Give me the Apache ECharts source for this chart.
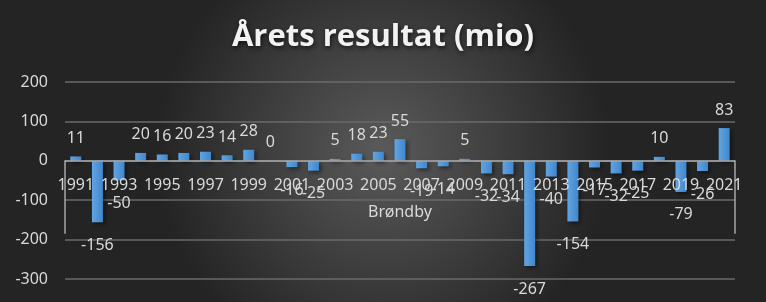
<!DOCTYPE html>
<html>
<head>
<meta charset="utf-8">
<script src="https://cdn.jsdelivr.net/npm/echarts@6/dist/echarts.min.js"></script>
<style>html,body{margin:0;padding:0;background:#333;}#c{width:766px;height:302px;}</style>
</head>
<body>
<div id="c"></div>
<script>
var years = ['1991','1992','1993','1994','1995','1996','1997','1998','1999','2000','2001','2002','2003','2004','2005','2006','2007','2008','2009','2010','2011','2012','2013','2014','2015','2016','2017','2018','2019','2020','2021'];
var results = [11,-156,-50,20,16,20,23,14,28,0,-16,-25,5,18,23,55,-19,-14,5,-32,-34,-267,-40,-154,-17,-32,-25,10,-79,-26,83];
var groupLabel = ['Brøndby'];
var yTicks = {min:-300, max:200, interval:100};

var FONT = 'Noto Sans';
var txt = '#d9d9d9';
var GRID_H = 197;
var zeroOffset = -GRID_H * (0 - yTicks.min) / (yTicks.max - yTicks.min);
var chart = echarts.init(document.getElementById('c'), null, {renderer:'canvas'});
var barData = results.map(function(v){
  return {value:v, label:{position: v < 0 ? 'bottom' : 'top', distance: v < 0 ? 15 : 10}};
});
chart.setOption({
  backgroundColor: new echarts.graphic.RadialGradient(0.5, 0.5, 0.75, [
    {offset:0, color:'#5a5a5a'},{offset:1, color:'#242424'}
  ]),
  animation:false,
  title:{
    text:'Årets resultat (mio)', left:'center', top:17,
    textStyle:{fontFamily:'Open Sans', fontWeight:'bold', fontSize:31, color:'#f2f2f2',
      textShadowColor:'rgba(0,0,0,0.7)', textShadowBlur:5, textShadowOffsetX:1, textShadowOffsetY:2}
  },
  grid:{left:65, right:31, top:82, height:GRID_H, containLabel:false, outerBoundsMode:'none'},
  xAxis:[{
    type:'category', data:years, position:'bottom', offset:zeroOffset, z:5,
    axisLine:{onZero:false, lineStyle:{color:'#a6a6a6', width:1.5}},
    axisTick:{show:false},
    axisLabel:{interval:1, margin:17, color:txt, fontFamily:FONT, fontSize:16}
  },{
    type:'category', data:groupLabel, position:'bottom', offset:zeroOffset, z:5,
    axisLine:{show:false, onZero:false},
    axisTick:{show:true, length:73, interval:0, lineStyle:{color:'#a6a6a6', width:1.5}},
    axisLabel:{margin:44, color:txt, fontFamily:FONT, fontSize:16}
  }],
  yAxis:{
    type:'value', min:yTicks.min, max:yTicks.max, interval:yTicks.interval,
    axisLine:{show:false}, axisTick:{show:false},
    axisLabel:{margin:17, color:txt, fontFamily:FONT, fontSize:16},
    splitLine:{lineStyle:{color:'#6a6a6a', width:1.5}}
  },
  series:[{
    type:'bar', data:barData, barWidth:11, xAxisIndex:0,
    itemStyle:{
      color:new echarts.graphic.LinearGradient(0,0,1,0,[{offset:0,color:'#62a4e2'},{offset:1,color:'#3f87cc'}]),
      shadowColor:'rgba(0,0,0,0.5)', shadowBlur:4, shadowOffsetX:2, shadowOffsetY:2
    },
    label:{show:true, color:txt, fontFamily:FONT, fontSize:16}
  }]
});
</script>
</body>
</html>
